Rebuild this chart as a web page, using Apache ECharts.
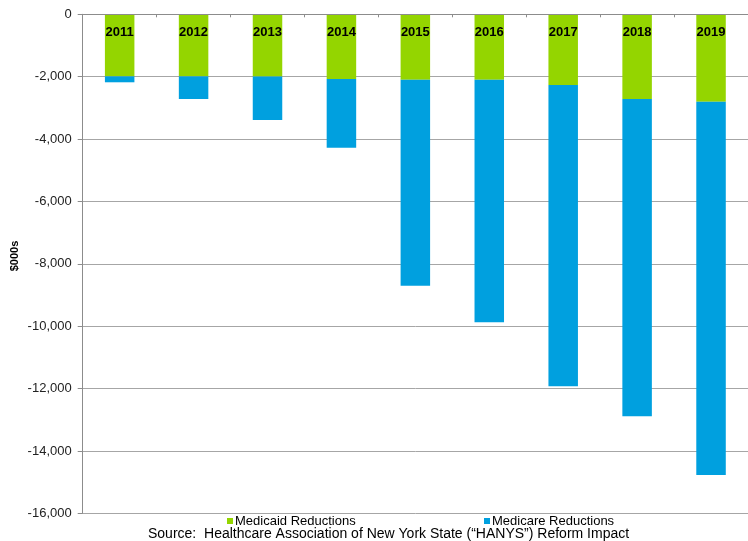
<!DOCTYPE html>
<html>
<head>
<meta charset="utf-8">
<script src="https://cdn.jsdelivr.net/npm/echarts@6/dist/echarts.min.js"></script>
<style>
html,body{margin:0;padding:0;background:#fff;}
#chart{width:748px;height:541px;}
</style>
</head>
<body>
<div id="chart"></div>
<script>
const categories = ['2011','2012','2013','2014','2015','2016','2017','2018','2019'];
const medicaid = [-1990, -1990, -1995, -2075, -2100, -2100, -2267, -2716, -2802];
const medicare = [-190, -726, -1395, -2202, -6605, -7775, -9660, -10174, -11969];
const yTicks = { min: -16000, max: 0, interval: 2000 };
const seriesNames = ['Medicaid Reductions', 'Medicare Reductions'];
const sourceText = 'Source:  Healthcare Association of New York State (\u201cHANYS\u201d) Reform Impact';
const yName = '$000s';

const FONT = 'Arial, "Liberation Sans", sans-serif';
const GREEN = '#94d500';
const BLUE = '#00a0df';

const chart = echarts.init(document.getElementById('chart'), null, {renderer: 'canvas'});
chart.setOption({
  animation: false,
  backgroundColor: '#fff',
  textStyle: { fontFamily: FONT },
  grid: { left: 82.7, top: 14.3, bottom: 27.7, right: -9.7, containLabel: false },
  title: {
    text: sourceText,
    left: 148, top: 527.5, padding: 0,
    textStyle: { fontFamily: FONT, fontSize: 14, fontWeight: 'normal', color: '#000' }
  },
  graphic: [{
    type: 'text',
    x: 15, y: 256,
    rotation: Math.PI / 2,
    style: {
      text: yName, fontFamily: FONT, fontSize: 11, fontWeight: 'bold',
      fill: '#000', align: 'center', verticalAlign: 'middle'
    }
  }],
  legend: [
    { data: [seriesNames[0]], left: 222, top: 509.5, itemWidth: 6, itemHeight: 6, icon: 'rect',
      textStyle: { fontFamily: FONT, fontSize: 13, color: '#000', padding: [0,0,0,-3] } },
    { data: [seriesNames[1]], left: 479, top: 509.5, itemWidth: 6, itemHeight: 6, icon: 'rect',
      textStyle: { fontFamily: FONT, fontSize: 13, color: '#000', padding: [0,0,0,-3] } }
  ],
  xAxis: {
    type: 'category',
    data: categories,
    position: 'top',
    z: 10,
    axisLine: { show: true, lineStyle: { color: '#8c8c8c', width: 1 } },
    axisTick: { show: true, inside: true, length: 3, lineStyle: { color: '#8c8c8c' } },
    axisLabel: { inside: true, margin: 12, fontFamily: FONT, fontSize: 13, fontWeight: 'bold', color: '#000' },
    splitLine: { show: false }
  },
  yAxis: {
    type: 'value',
    min: yTicks.min, max: yTicks.max, interval: yTicks.interval,
    axisLine: { show: true, lineStyle: { color: '#8c8c8c', width: 1 } },
    axisTick: { show: true, length: 5, lineStyle: { color: '#8c8c8c' } },
    axisLabel: {
      margin: 11, fontFamily: FONT, fontSize: 13, color: '#222',
      formatter: v => v.toLocaleString('en-US')
    },
    splitLine: { show: true, lineStyle: { color: '#a6a6a6', width: 1 } }
  },
  series: [
    { name: seriesNames[0], type: 'bar', stack: 'total', data: medicaid, barWidth: 29.5,
      itemStyle: { color: GREEN } },
    { name: seriesNames[1], type: 'bar', stack: 'total', data: medicare, barWidth: 29.5,
      itemStyle: { color: BLUE } }
  ]
});
</script>
</body>
</html>
